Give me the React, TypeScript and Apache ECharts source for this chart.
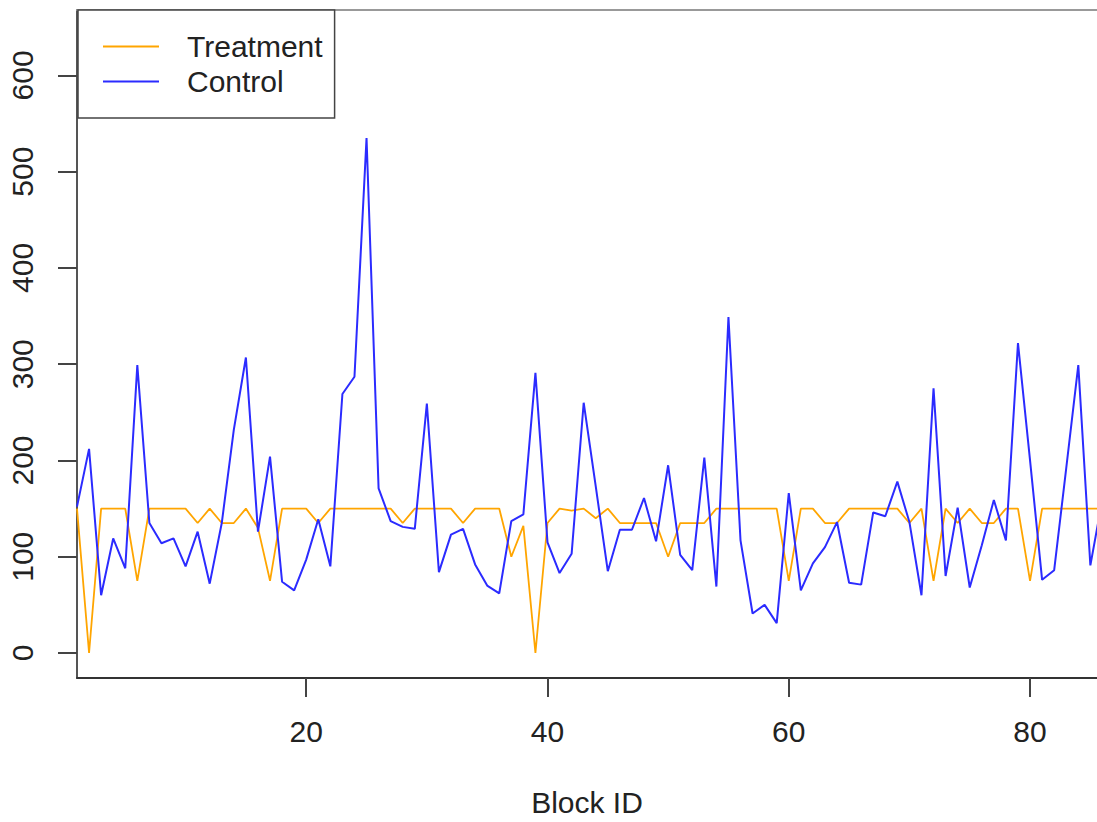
import React, { useEffect, useRef } from "react";
import * as echarts from "echarts";

const blockIds = [
  1, 2, 3, 4, 5, 6, 7, 8, 9, 10, 11, 12, 13, 14, 15, 16, 17, 18, 19, 20,
  21, 22, 23, 24, 25, 26, 27, 28, 29, 30, 31, 32, 33, 34, 35, 36, 37, 38, 39, 40,
  41, 42, 43, 44, 45, 46, 47, 48, 49, 50, 51, 52, 53, 54, 55, 56, 57, 58, 59, 60,
  61, 62, 63, 64, 65, 66, 67, 68, 69, 70, 71, 72, 73, 74, 75, 76, 77, 78, 79, 80,
  81, 82, 83, 84, 85, 86,
];

const treatment = [
  150, 0, 150, 150, 150, 75, 150, 150, 150, 150, 135, 150, 135, 135, 150, 130, 75, 150, 150, 150,
  135, 150, 150, 150, 150, 150, 150, 135, 150, 150, 150, 150, 135, 150, 150, 150, 100, 132, 0, 135,
  150, 148, 150, 140, 150, 135, 135, 135, 135, 100, 135, 135, 135, 150, 150, 150, 150, 150, 150, 75,
  150, 150, 135, 135, 150, 150, 150, 150, 150, 135, 150, 75, 150, 135, 150, 135, 135, 150, 150, 75,
  150, 150, 150, 150, 150, 150,
];

const control = [
  152, 212, 60, 119, 88, 299, 135, 114, 119, 90, 126, 72, 135, 232, 307, 126, 204, 74, 65, 97,
  139, 90, 269, 287, 535, 171, 137, 131, 129, 259, 84, 123, 129, 92, 70, 62, 137, 144, 291, 115,
  83, 103, 260, 173, 85, 128, 128, 161, 116, 195, 102, 86, 203, 69, 349, 117, 41, 50, 31, 166,
  65, 93, 110, 136, 73, 71, 146, 142, 178, 136, 60, 275, 80, 151, 68, 112, 159, 117, 322, 200,
  76, 86, 192, 299, 91, 160,
];

const xTicks = [20, 40, 60, 80];
const yTicks = [0, 100, 200, 300, 400, 500, 600];

const FONT = "'Liberation Sans', Arial, sans-serif";

export default function App() {
  const ref = useRef<HTMLDivElement>(null);

  useEffect(() => {
    if (!ref.current) return;
    const chart = echarts.init(ref.current, undefined, { renderer: "svg" });
    chart.setOption({
      animation: false,
      backgroundColor: "#ffffff",
      textStyle: { fontFamily: FONT },
      grid: { left: 77, right: 0, top: 10, bottom: 144, containLabel: false },
      legend: {
        left: 78,
        top: 10,
        orient: "vertical",
        backgroundColor: "#ffffff",
        borderColor: "#444",
        borderWidth: 1.5,
        borderRadius: 0,
        padding: [21.5, 12, 21.5, 25],
        itemWidth: 56,
        itemHeight: 2,
        itemGap: 5,
        icon: "rect",
        selectedMode: false,
        textStyle: {
          fontSize: 30,
          fontFamily: FONT,
          color: "#222",
          lineHeight: 30,
          padding: [0, 0, 0, 23],
        },
        data: ["Treatment", "Control"],
      },
      xAxis: [
        {
          type: "value",
          min: 1,
          max: 85.55,
          name: "Block ID",
          nameLocation: "middle",
          nameGap: 109,
          nameTextStyle: { fontSize: 30, color: "#222", fontFamily: FONT },
          axisLine: { show: true, onZero: false, lineStyle: { color: "#333", width: 2 } },
          axisTick: {
            show: true,
            length: 19,
            customValues: xTicks,
            lineStyle: { color: "#444", width: 2 },
          },
          axisLabel: {
            customValues: xTicks,
            margin: 38,
            fontSize: 30,
            color: "#222",
            fontFamily: FONT,
          },
          splitLine: { show: false },
        },
        {
          type: "value",
          position: "top",
          min: 1,
          max: 85.55,
          axisLine: { show: true, onZero: false, lineStyle: { color: "#999", width: 2 } },
          axisTick: { show: false },
          axisLabel: { show: false },
          splitLine: { show: false },
        },
      ],
      yAxis: {
        type: "value",
        min: -26,
        max: 668,
        axisLine: { show: true, onZero: false, lineStyle: { color: "#555", width: 2 } },
        axisTick: {
          show: true,
          length: 19,
          customValues: yTicks,
          lineStyle: { color: "#444", width: 2 },
        },
        axisLabel: {
          customValues: yTicks,
          rotate: 90,
          margin: 40,
          fontSize: 30,
          color: "#222",
          fontFamily: FONT,
        },
        splitLine: { show: false },
      },
      series: [
        {
          name: "Treatment",
          type: "line",
          xAxisIndex: 0,
          symbol: "none",
          showSymbol: false,
          color: "#FFA500",
          lineStyle: { color: "#FFA500", width: 1.8 },
          data: blockIds.map((id, i) => [id, treatment[i]]),
        },
        {
          name: "Control",
          type: "line",
          xAxisIndex: 0,
          symbol: "none",
          showSymbol: false,
          color: "#2b2bff",
          lineStyle: { color: "#2b2bff", width: 2 },
          data: blockIds.map((id, i) => [id, control[i]]),
        },
      ],
    });
    return () => chart.dispose();
  }, []);

  return (
    <div
      ref={ref}
      style={{
        position: "fixed",
        left: 0,
        top: 0,
        width: 1097,
        height: 822,
        background: "#fff",
      }}
    />
  );
}
